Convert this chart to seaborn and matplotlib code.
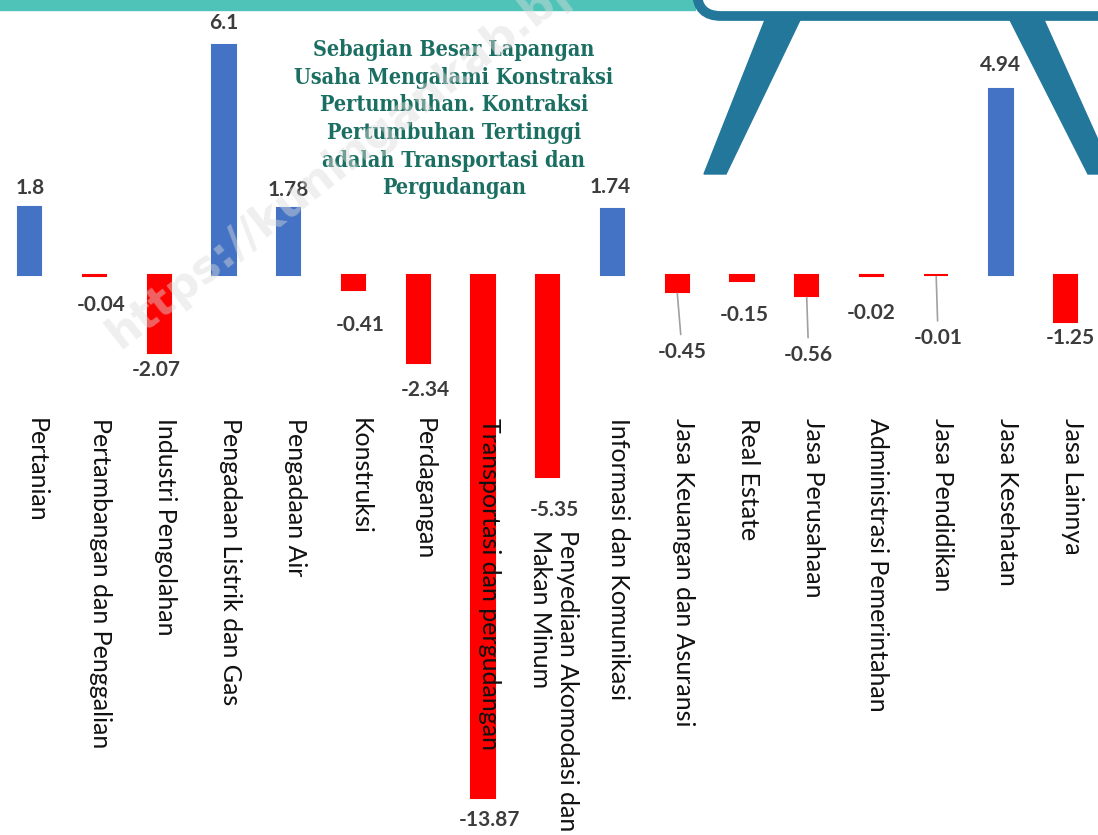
import seaborn as sns
import matplotlib.pyplot as plt
from matplotlib.patches import FancyBboxPatch, Rectangle, Polygon

# Data
sectors = [
    "Pertanian", "Pertambangan dan Penggalian", "Industri Pengolahan",
    "Pengadaan Listrik dan Gas", "Pengadaan Air", "Konstruksi", "Perdagangan",
    "Transportasi dan pergudangan", "Penyediaan Akomodasi dan\nMakan Minum",
    "Informasi dan Komunikasi", "Jasa Keuangan dan Asuransi", "Real Estate",
    "Jasa Perusahaan", "Administrasi Pemerintahan", "Jasa Pendidikan",
    "Jasa Kesehatan", "Jasa Lainnya",
]
growth = [1.8, -0.04, -2.07, 6.1, 1.78, -0.41, -2.34, -13.87, -5.35,
          1.74, -0.45, -0.15, -0.56, -0.02, -0.01, 4.94, -1.25]
value_text = ["1.8", "-0.04", "-2.07", "6.1", "1.78", "-0.41", "-2.34", "-13.87",
              "-5.35", "1.74", "-0.45", "-0.15", "-0.56", "-0.02", "-0.01",
              "4.94", "-1.25"]
note_lines = ["Sebagian Besar Lapangan", "Usaha Mengalami Konstraksi",
              "Pertumbuhan. Kontraksi", "Pertumbuhan Tertinggi",
              "adalah Transportasi dan", "Pergudangan"]

# label offsets (pixels) and leader-line flags
label_dx = [0, 7, -3, 0, 0, 7, 7, 7, 7, -2, 5, 2, 2, 0, 2, 0, 5]
label_dy = [19, -29, -17, 22, 18, -35, -27, -22, -33, 22, -60, -34, -59, -37, -63, 24, -16]
leader = [False] * 10 + [True, False, True, False, True, False, False]
# top of category labels (data units); one label sits below its bar
cat_top = [-3.8] * 17
cat_top[8] = -6.75

BLUE = "#4472C4"
RED = "#FF0000"
colors = [BLUE if v >= 0 else RED for v in growth]

sns.set_style("white")
plt.rcParams["font.family"] = ["Lato", "DejaVu Sans"]

fig = plt.figure(figsize=(10.98, 8.35), dpi=100)
ax = fig.add_axes([0, 0, 1, 1])

sns.barplot(x=list(range(len(sectors))), y=growth, hue=list(range(len(sectors))),
            palette=colors, width=0.36, legend=False, ax=ax, saturation=1)
for p in ax.patches:
    p.set_edgecolor(p.get_facecolor())
    p.set_linewidth(1.5)

ax.set_xlim(-0.46, 16.5)
ax.set_ylim(-14.85, 7.29)
ax.axis("off")

# watermark (over the bars, under the texts)
fig.text(112 / 1098, 1 - 340 / 835, "https://kuningankab.bps.go.id", rotation=38,
         rotation_mode="anchor", ha="left", va="center", fontsize=32,
         color="#dcdcdc", alpha=0.45, fontweight="bold", family="DejaVu Sans",
         zorder=1)

# value labels
for i, v in enumerate(growth):
    arrow = dict(arrowstyle="-", color="#a0a0a0", lw=1.2, shrinkA=3, shrinkB=1) if leader[i] else None
    ax.annotate(value_text[i], xy=(i, v), xytext=(label_dx[i], label_dy[i]),
                textcoords="offset pixels", ha="center", va="center",
                fontsize=15, fontweight="bold", color="#3c3c3c",
                arrowprops=arrow)

# category labels
for i, name in enumerate(sectors):
    ax.text(i + 0.1, cat_top[i], name, rotation=270, ha="center", va="top",
            multialignment="left", fontsize=18, color="#111111")

# annotation text, one line at a time
for k, line in enumerate(note_lines):
    ax.annotate(line, xy=(6.55, 5.96), xytext=(0, -27.6 * k),
                textcoords="offset pixels", ha="center", va="center",
                fontsize=15.5, color="#1b6e62", fontweight="bold",
                family=["DejaVu Serif"], fontstretch="condensed")

# decorations at top (display pixels, origin bottom-left)
H = 835
TEAL = "#22779a"
fig.patches.append(Rectangle((0, H - 10), 695, 10, transform=None,
                             color="#4fc3b8", zorder=0))
fig.patches.append(FancyBboxPatch((697, H - 16), 450, 60,
                                  boxstyle="round,pad=0,rounding_size=24",
                                  transform=None, facecolor="white",
                                  edgecolor=TEAL, lw=7, zorder=0))
fig.patches.append(Polygon([(765, H - 20), (800, H - 20), (726, H - 174), (704, H - 174)],
                           closed=True, transform=None, color=TEAL, zorder=0))
fig.patches.append(Polygon([(1010, H - 20), (1044, H - 20), (1098, H - 140),
                            (1098, H - 174), (1088, H - 174)],
                           closed=True, transform=None, color=TEAL, zorder=0))

fig.savefig("out.png", dpi=100)
